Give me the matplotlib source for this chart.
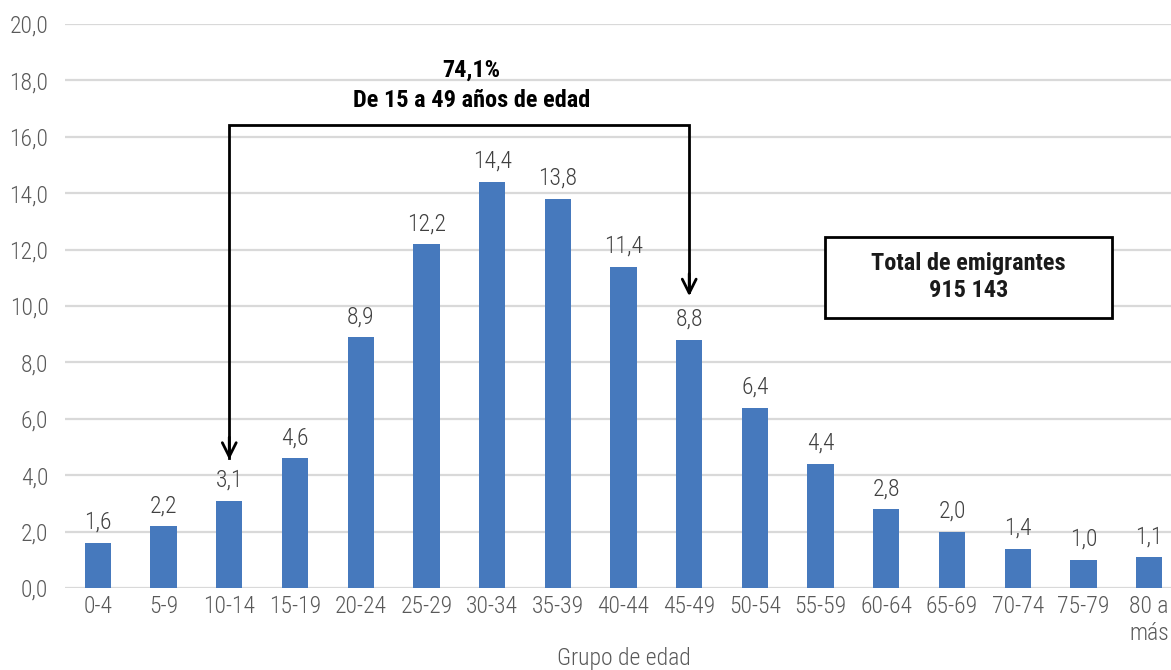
import matplotlib
matplotlib.use("Agg")
import matplotlib.pyplot as plt
from matplotlib.patches import Rectangle
from matplotlib import font_manager
import numpy as np

categories = ["0-4", "5-9", "10-14", "15-19", "20-24", "25-29", "30-34", "35-39",
              "40-44", "45-49", "50-54", "55-59", "60-64", "65-69", "70-74", "75-79",
              "80 a\nmás"]
values = [1.6, 2.2, 3.1, 4.6, 8.9, 12.2, 14.4, 13.8, 11.4, 8.8, 6.4, 4.4, 2.8,
          2.0, 1.4, 1.0, 1.1]
yticks = [0, 2, 4, 6, 8, 10, 12, 14, 16, 18, 20]

available = {f.name for f in font_manager.fontManager.ttflist}
fam = [f for f in ['Roboto Condensed', 'Liberation Sans Narrow', 'Roboto'] if f in available]
plt.rcParams['font.family'] = fam + ['DejaVu Sans']
LW = "light"

fig = plt.figure(figsize=(11.71, 6.70), dpi=100)
ax = fig.add_axes([65/1171, (670-588)/670, 1117/1171, (588-24)/670])

x = np.arange(len(categories))
ax.bar(x, values, width=0.4, color="#4679BD", zorder=3)
for xi, v in zip(x, values):
    ax.annotate(f"{v:.1f}".replace(".", ","), (xi, v), xytext=(0, 10),
                textcoords="offset points", ha="center", va="baseline",
                fontsize=17, color="#404040", fontweight=LW)

ax.set_xlim(-0.5, len(categories) - 0.5)
ax.set_ylim(0, 20)
ax.set_yticks(yticks)
ax.set_yticklabels([f"{t:.1f}".replace(".", ",") for t in yticks])
ax.set_xticks(x)
ax.set_xticklabels(categories)
ax.tick_params(axis="both", length=0, labelsize=17, labelcolor="#595959")
ax.tick_params(axis="x", pad=5)
ax.tick_params(axis="y", pad=12)
for lab in ax.get_xticklabels() + ax.get_yticklabels():
    lab.set_fontweight(LW)
ax.grid(axis="y", color="#D9D9D9", linewidth=1.6, zorder=0)
for s in ax.spines.values():
    s.set_visible(False)
ax.set_xlabel("Grupo de edad", fontsize=17, color="#595959", labelpad=2,
              fontweight=LW)

# bracket with arrows
ax.plot([2, 2, 9, 9], [4.6, 16.42, 16.42, 10.5], color="black", lw=2, zorder=4,
        solid_joinstyle="miter")
for xa, ya in [(2, 4.55), (9, 10.35)]:
    ax.annotate("", xy=(xa, ya), xytext=(xa, ya + 0.8),
                arrowprops=dict(arrowstyle="->", color="black", lw=2,
                                mutation_scale=25, shrinkA=0, shrinkB=0), zorder=5)

ax.text(5.69, 18.35, "74,1%", ha="center", va="center", fontsize=17.5,
        fontweight="bold", color="black")
ax.text(5.69, 17.3, "De 15 a 49 años de edad", ha="center", va="center", fontsize=17.5,
        fontweight="bold", color="black")

box = Rectangle((11.07, 9.57), 4.36, 2.88, fill=True, facecolor="white",
                edgecolor="black", lw=2, zorder=4)
ax.add_patch(box)
ax.text(13.25, 11.5, "Total de emigrantes", ha="center", va="center", fontsize=17.5,
        fontweight="bold", color="#1a1a1a", zorder=5)
ax.text(13.25, 10.55, "915 143", ha="center", va="center", fontsize=17.5,
        fontweight="bold", color="#1a1a1a", zorder=5)

fig.savefig("out.png", dpi=100)
